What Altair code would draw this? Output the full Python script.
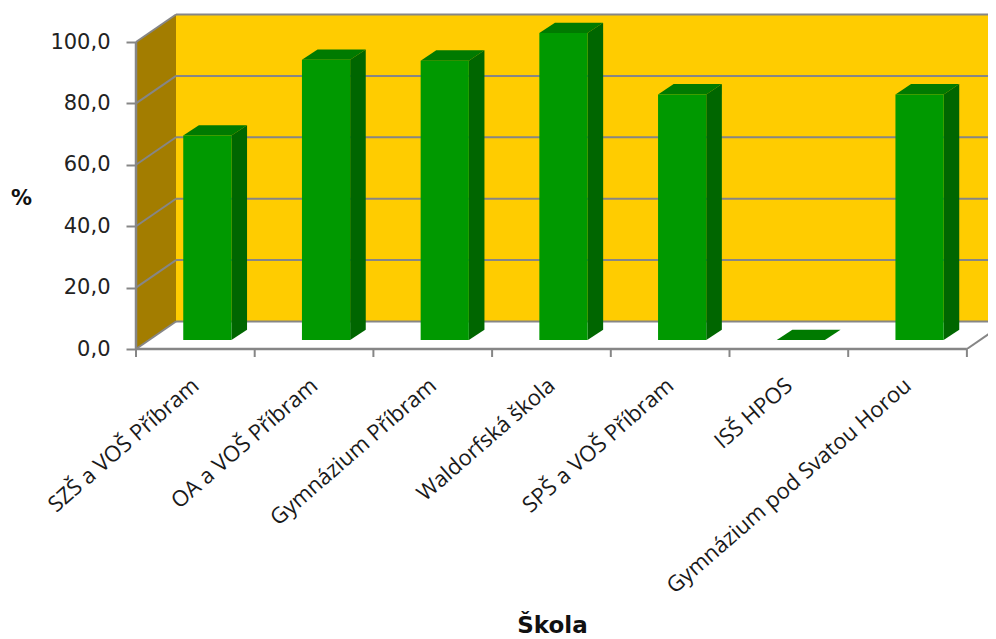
import altair as alt
import pandas as pd

categories = ["SZŠ a VOŠ Příbram", "OA a VOŠ Příbram", "Gymnázium Příbram", "Waldorfská škola",
              "SPŠ a VOŠ Příbram", "ISŠ HPOS", "Gymnázium pod Svatou Horou"]
values = [66.6, 91.3, 91.0, 100.0, 80.0, 0.0, 80.0]
y_ticks = [0, 20, 40, 60, 80, 100]

PX_X = 118.7
PX_Y = 3.07
W, H = 852, 335
XMAX = W / PX_X
YMAX = H / PX_Y
WALL_DX = 40 / PX_X
WALL_DY = 27.5 / PX_Y
BAR_OX = 12 / PX_X
BAR_OY = 9 / PX_Y
BAR_HW = 24.1 / PX_X
BAR_DX = 15.6 / PX_X
BAR_DY = 10.3 / PX_Y

GREY = "#868686"
n = len(categories)
label_expr = "[" + ",".join(f"'{c}'" for c in categories) + "][floor(datum.value)]"

sx = alt.Scale(domain=[0, XMAX], nice=False, zero=False)
sy = alt.Scale(domain=[0, YMAX], nice=False, zero=False)

x_axis = alt.Axis(
    values=[i + 0.5 for i in range(n)], labelExpr=label_expr, ticks=False, domain=False, grid=False,
    labelAngle=319, labelAlign="right", labelBaseline="middle", labelPadding=33, labelOverlap=False,
    labelBound=False, labelFlush=False, labelLimit=0,
    labelFont="Open Sans", labelFontSize=22, labelColor="#1a1a1a",
    title="Škola", titleFont="DejaVu Sans", titleFontSize=23, titleFontWeight="bold", titleColor="#111111",
    titleX=416, titleY=276, titleAnchor="middle", titleAlign="center", titleBaseline="middle", zindex=1)
y_axis = alt.Axis(
    values=y_ticks, labelExpr="replace(format(datum.value,'.1f'),'.',',')",
    domain=False, grid=False, tickColor=GREY, tickWidth=2, tickSize=10, labelPadding=16,
    labelFont="DejaVu Sans", labelFontSize=21, labelColor="#222222", labelOverlap=False,
    title="%", titleFont="DejaVu Sans", titleFontSize=21, titleFontWeight="bold", titleColor="#111111",
    titleAngle=0, titleX=-115, titleY=184, titleAlign="center", titleBaseline="middle", zindex=1)


def X(f="x"):
    return alt.X(f"{f}:Q", scale=sx, axis=x_axis)


def Y(f="y"):
    return alt.Y(f"{f}:Q", scale=sy, axis=y_axis)


# walls
side_wall = alt.Chart(pd.DataFrame({
    "x": [0, WALL_DX], "y": [0, WALL_DY], "y2": [100, 100 + WALL_DY]
})).mark_area(color="#A37D00").encode(x=X(), y=Y(), y2="y2:Q")

back_wall = alt.Chart(pd.DataFrame({
    "x": [WALL_DX], "x2": [XMAX], "y": [WALL_DY], "y2": [100 + WALL_DY]
})).mark_rect(color="#FFCC00", clip=True).encode(x=X(), x2="x2:Q", y=Y(), y2="y2:Q")

# grid
back_grid = alt.Chart(pd.DataFrame({
    "x": [WALL_DX] * len(y_ticks), "x2": [XMAX] * len(y_ticks), "y": [v + WALL_DY for v in y_ticks],
})).mark_rule(color=GREY, strokeWidth=2).encode(x=X(), x2="x2:Q", y=Y())

side_rows = []
for v in y_ticks:
    side_rows += [{"x": 0, "y": v, "k": v}, {"x": WALL_DX, "y": v + WALL_DY, "k": v}]
side_grid = alt.Chart(pd.DataFrame(side_rows)).mark_line(color=GREY, strokeWidth=2).encode(
    x=X(), y=Y(), detail="k:N")

floor_edge = alt.Chart(pd.DataFrame({"x": [7, 7 + WALL_DX], "y": [0, WALL_DY]})).mark_line(
    color=GREY, strokeWidth=2, clip=True).encode(x=X(), y=Y())

left_line = alt.Chart(pd.DataFrame({"x": [0], "y": [0], "y2": [100]})).mark_rule(
    color=GREY, strokeWidth=2.5).encode(x=X(), y=Y(), y2="y2:Q")
bottom_line = alt.Chart(pd.DataFrame({"x": [0], "x2": [7], "y": [0]})).mark_rule(
    color=GREY, strokeWidth=2.5).encode(x=X(), x2="x2:Q", y=Y())
x_ticks = alt.Chart(pd.DataFrame({"x": list(range(n + 1)), "y": [0] * (n + 1), "y2": [-8 / PX_Y] * (n + 1)})).mark_rule(
    color=GREY, strokeWidth=2).encode(x=X(), y=Y(), y2="y2:Q")

# bars
fronts, sides, tops = [], [], []
for i, (c, v) in enumerate(zip(categories, values)):
    xl = i + 0.5 + BAR_OX - BAR_HW
    xr = i + 0.5 + BAR_OX + BAR_HW
    base = BAR_OY
    fronts.append({"x": xl, "x2": xr, "y": base, "y2": base + v})
    sides += [{"k": i, "x": xr, "y": base, "y2": base + v},
              {"k": i, "x": xr + BAR_DX, "y": base + BAR_DY, "y2": base + v + BAR_DY}]
    tops += [{"k": i, "y": base + v, "x": xl, "x2": xr},
             {"k": i, "y": base + v + BAR_DY, "x": xl + BAR_DX, "x2": xr + BAR_DX}]

bar_front = alt.Chart(pd.DataFrame(fronts)).mark_rect(color="#009900").encode(
    x=X(), x2="x2:Q", y=Y(), y2="y2:Q")
bar_side = alt.Chart(pd.DataFrame(sides)).mark_area(color="#006600").encode(
    x=X(), y=Y(), y2="y2:Q", detail="k:N")
bar_top = alt.Chart(pd.DataFrame(tops)).mark_area(color="#007A00", orient="horizontal").encode(
    y=Y(), x=X(), x2="x2:Q", detail="k:N")

chart = alt.layer(
    side_wall, back_wall, back_grid, side_grid, floor_edge, bar_top, bar_side, bar_front,
    left_line, bottom_line, x_ticks
).properties(
    width=W, height=H, background="white",
    padding={"left": 128, "top": 6, "right": 0, "bottom": 290},
    autosize=alt.AutoSizeParams(type="none"),
).configure_view(stroke=None)

chart.save("out.html", embed_options={"renderer": "svg", "actions": False})
